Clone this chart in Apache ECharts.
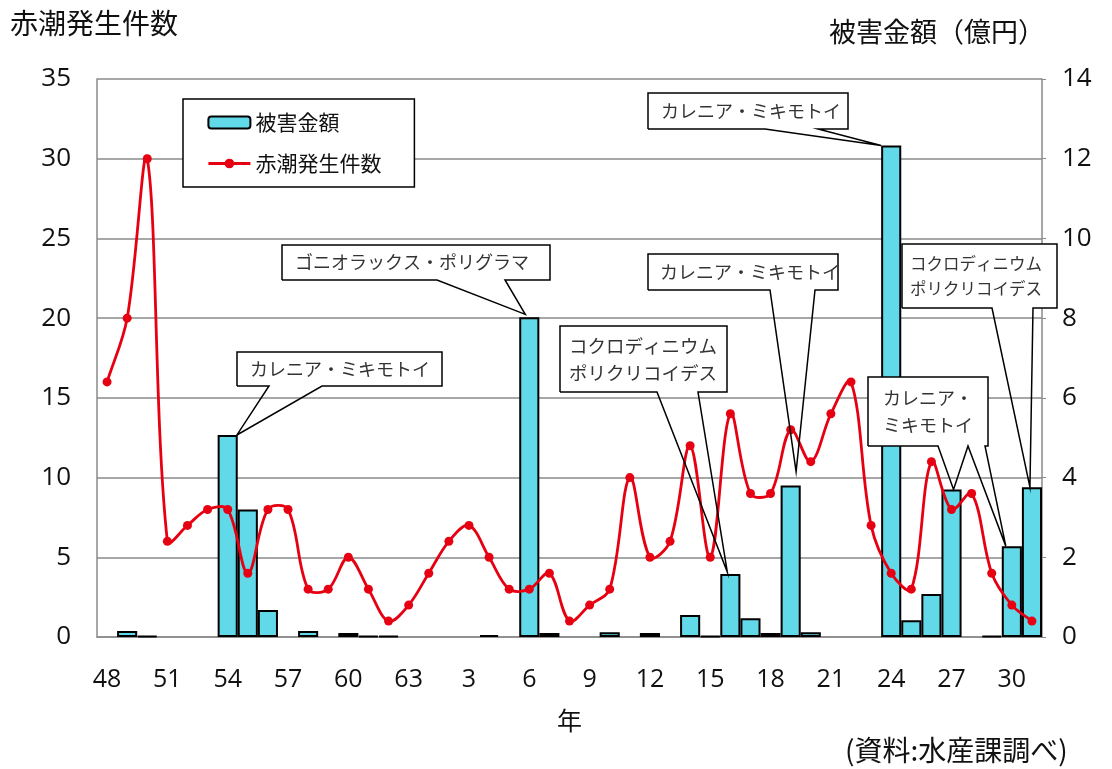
<!DOCTYPE html>
<html>
<head>
<meta charset="utf-8">
<script src="https://cdn.jsdelivr.net/npm/echarts@6/dist/echarts.min.js"></script>
<style>
  html, body { margin: 0; padding: 0; background: #ffffff; }
  #chart { width: 1112px; height: 769px; }
</style>
</head>
<body>
<div id="chart"></div>
<script>
// 年 (昭和48年〜昭和63年, 平成元年〜平成31年)
const categories = [
  '48','49','50','51','52','53','54','55','56','57','58','59','60','61','62','63',
  '1','2','3','4','5','6','7','8','9','10','11','12','13','14','15','16','17','18','19','20',
  '21','22','23','24','25','26','27','28','29','30','31'
];

// 赤潮発生件数 (件)
const redTideCounts = [
  16, 20, 30, 6, 7, 8, 8, 4, 8, 8, 3, 3, 5, 3, 1, 2,
  4, 6, 7, 5, 3, 3, 4, 1, 2, 3, 10, 5, 6, 12, 5, 14, 9, 9, 13, 11,
  14, 16, 7, 4, 3, 11, 8, 9, 4, 2, 1
];

// 被害金額 (億円)
const damageAmounts = [
  0, 0.15, 0.03, 0, 0, 0, 5.07, 3.2, 0.68, 0, 0.15, 0, 0.1, 0.03, 0.03, 0,
  0, 0, 0, 0.05, 0, 8.02, 0.1, 0, 0, 0.12, 0, 0.1, 0, 0.55, 0.02, 1.58, 0.47, 0.1, 3.8, 0.12,
  0, 0, 0, 12.33, 0.42, 1.08, 3.7, 0, 0.03, 2.28, 3.76
];

// 左軸・右軸の目盛
const countTicks = { min: 0, max: 35, interval: 5 };
const damageTicks = { min: 0, max: 14, interval: 2 };

// 被害をもたらした赤潮プランクトンの吹き出し
const callouts = [
  { text: 'カレニア・ミキモトイ', box: [237, 352, 205, 34], pad: 13, size: 18, pointers: [{ base: [269, 322], year: 6, dx: 0.46, dy: 0 }] },
  { text: 'ゴニオラックス・ポリグラマ', box: [282, 245, 268, 35], pad: 13, size: 18, pointers: [{ base: [437, 505], year: 21, dx: -0.2, dy: -3 }] },
  { text: 'コクロディニウム\nポリクリコイデス', box: [560, 326, 167, 66], pad: 9, size: 18.5, lh: 27, pointers: [{ base: [657, 698], year: 31, dx: -0.15, dy: -2 }] },
  { text: 'カレニア・ミキモトイ', box: [648, 254, 190, 36], pad: 12, size: 18, pointers: [{ base: [770, 815], year: 34, dx: 0.27, dy: -14 }] },
  { text: 'カレニア・ミキモトイ', box: [648, 93, 200, 36], pad: 13, size: 18, pointers: [{ base: [765, 818], year: 39, dx: -0.5, dy: 0 }] },
  { text: 'コクロディニウム\nポリクリコイデス', box: [902, 244, 155, 64], pad: 8, size: 16.5, lh: 25, pointers: [{ base: [992, 1033], year: 46, dx: -0.1, dy: 0 }] },
  { text: 'カレニア・\nミキモトイ', box: [868, 377, 120, 69], pad: 15, size: 18, lh: 27, pointers: [
      { base: [938, 968], year: 42, dx: 0.1, dy: 0 },
      { base: [968, 985], year: 45, dx: -0.3, dy: 0 }
    ] }
];

const GRID = '#8a8a8a';
const RED = '#e60012';
const CYAN = '#62d9e9';
const NUM_FONT = '"Open Sans", "Noto Sans", sans-serif';
const JP_FONT = '"Noto Sans CJK JP", "Noto Sans", sans-serif';
const SMOOTH = 0.35;
const LINE_WIDTH = 2.8;

const chart = echarts.init(document.getElementById('chart'), null, { renderer: 'canvas' });

// 平滑化した折れ線: 前後の点を結ぶ向きを接線とし、区間長の比で制御点を置く
function controlPoints(prev, cur, next) {
  const vx = next[0] - prev[0];
  const vy = next[1] - prev[1];
  const lp = Math.hypot(cur[0] - prev[0], cur[1] - prev[1]);
  const ln = Math.hypot(next[0] - cur[0], next[1] - cur[1]);
  const total = lp + ln || 1;
  return {
    before: [cur[0] - vx * SMOOTH * (lp / total), cur[1] - vy * SMOOTH * (lp / total)],
    after: [cur[0] + vx * SMOOTH * (ln / total), cur[1] + vy * SMOOTH * (ln / total)]
  };
}

function renderSmoothSegment(params, api) {
  const n = redTideCounts.length;
  const i = params.dataIndex;
  if (i >= n - 1) return null;
  const at = k => {
    const j = Math.max(0, Math.min(n - 1, k));
    return api.coord([j, redTideCounts[j]]);
  };
  const p0 = at(i - 1), p1 = at(i), p2 = at(i + 1), p3 = at(i + 2);
  const c1 = controlPoints(p0, p1, p2).after;
  const c2 = controlPoints(p1, p2, p3).before;
  return {
    type: 'bezierCurve',
    shape: { x1: p1[0], y1: p1[1], x2: p2[0], y2: p2[1], cpx1: c1[0], cpy1: c1[1], cpx2: c2[0], cpy2: c2[1] },
    style: { stroke: RED, lineWidth: LINE_WIDTH, fill: 'none', lineCap: 'round' }
  };
}

chart.setOption({
  animation: false,
  backgroundColor: '#ffffff',
  grid: { left: 97, right: 70, top: 79, bottom: 132, containLabel: false },
  legend: {
    left: 183, top: 99,
    orient: 'vertical',
    backgroundColor: '#ffffff',
    borderColor: '#000000', borderWidth: 1.5,
    padding: [13, 33, 13, 24],
    itemGap: 20,
    itemWidth: 42, itemHeight: 12,
    textStyle: { fontFamily: JP_FONT, fontSize: 21, color: '#111' },
    data: [
      { name: '被害金額' },
      { name: '赤潮発生件数', lineStyle: { color: RED, width: LINE_WIDTH, opacity: 1 } }
    ]
  },
  xAxis: {
    type: 'category',
    data: categories,
    boundaryGap: true,
    name: '年',
    nameLocation: 'middle',
    nameGap: 71,
    nameTextStyle: { fontFamily: JP_FONT, fontSize: 25, color: '#111' },
    axisLine: { lineStyle: { color: GRID, width: 1.5 } },
    axisTick: { inside: true, length: 5, interval: 0, lineStyle: { color: GRID, width: 1 } },
    axisLabel: { interval: 2, margin: 30, fontFamily: NUM_FONT, fontSize: 25, color: '#111' }
  },
  yAxis: [
    {
      type: 'value',
      min: countTicks.min, max: countTicks.max, interval: countTicks.interval,
      position: 'left',
      axisLine: { show: true, lineStyle: { color: GRID, width: 1.5 } },
      axisTick: { show: false },
      axisLabel: { margin: 26, fontFamily: NUM_FONT, fontSize: 26, color: '#111' },
      splitLine: { show: true, lineStyle: { color: GRID, width: 1.5 } }
    },
    {
      type: 'value',
      min: damageTicks.min, max: damageTicks.max, interval: damageTicks.interval,
      position: 'right',
      axisLine: { show: true, lineStyle: { color: GRID, width: 1.5 } },
      axisTick: { show: true, length: 4, lineStyle: { color: GRID } },
      axisLabel: { margin: 20, fontFamily: NUM_FONT, fontSize: 26, color: '#111' },
      splitLine: { show: false }
    }
  ],
  series: [
    {
      name: '被害金額',
      type: 'bar',
      yAxisIndex: 1,
      barWidth: '100%',
      barGap: '0%',
      data: damageAmounts.map(v => (v === 0 ? '-' : v)),
      itemStyle: { color: CYAN, borderColor: '#000000', borderWidth: 2 },
      z: 2
    },
    {
      name: '赤潮発生件数(曲線)',
      type: 'custom',
      xAxisIndex: 0,
      yAxisIndex: 0,
      data: redTideCounts.map((v, i) => [i, v]),
      encode: { x: 0, y: 1 },
      renderItem: renderSmoothSegment,
      silent: true,
      z: 3
    },
    {
      name: '赤潮発生件数',
      type: 'line',
      yAxisIndex: 0,
      data: redTideCounts,
      symbol: 'circle',
      symbolSize: 9,
      lineStyle: { color: RED, width: 0 },
      itemStyle: { color: RED },
      z: 4
    }
  ]
});

// 吹き出しの矢先を棒の位置から求める
function pointerTip(p) {
  const pt = chart.convertToPixel({ xAxisIndex: 0, yAxisIndex: 1 }, [p.year, damageAmounts[p.year]]);
  const a = chart.convertToPixel({ xAxisIndex: 0 }, 0);
  const b = chart.convertToPixel({ xAxisIndex: 0 }, 1);
  const band = b - a;
  return [pt[0] + p.dx * band, pt[1] + p.dy];
}

const graphics = [];

callouts.forEach(c => {
  const [x, y, w, h] = c.box;
  const bottom = y + h;
  // 白地の枠
  graphics.push({
    type: 'rect', z: 100,
    shape: { x, y, width: w, height: h },
    style: { fill: '#ffffff', stroke: null }
  });
  // 枠線と指示線を一筆で描く
  const pts = [[x, bottom]];
  c.pointers
    .slice()
    .sort((p, q) => p.base[0] - q.base[0])
    .forEach(p => {
      pts.push([p.base[0], bottom]);
      pts.push(pointerTip(p));
      pts.push([p.base[1], bottom]);
    });
  pts.push([x + w, bottom], [x + w, y], [x, y], [x, bottom]);
  graphics.push({
    type: 'polyline', z: 101,
    shape: { points: pts },
    style: { fill: null, stroke: '#000000', lineWidth: 1.5, lineJoin: 'miter' }
  });
  graphics.push({
    type: 'text', z: 102,
    x: x + c.pad, y: y + h / 2,
    style: {
      text: c.text,
      font: c.size + 'px ' + JP_FONT,
      fill: '#333333',
      lineHeight: c.lh || 26,
      verticalAlign: 'middle',
      align: 'left'
    }
  });
});

// 軸見出しと出典
graphics.push(
  { type: 'text', x: 10, y: 23, style: { text: '赤潮発生件数', font: '28px ' + JP_FONT, fill: '#111', verticalAlign: 'middle' } },
  { type: 'text', x: 829, y: 32, style: { text: '被害金額（億円）', font: '27px ' + JP_FONT, fill: '#111', verticalAlign: 'middle' } },
  { type: 'text', x: 845, y: 750, style: { text: '(資料:水産課調べ)', font: '28px ' + JP_FONT, fill: '#111', verticalAlign: 'middle' } }
);

chart.setOption({ graphic: graphics });
</script>
</body>
</html>
